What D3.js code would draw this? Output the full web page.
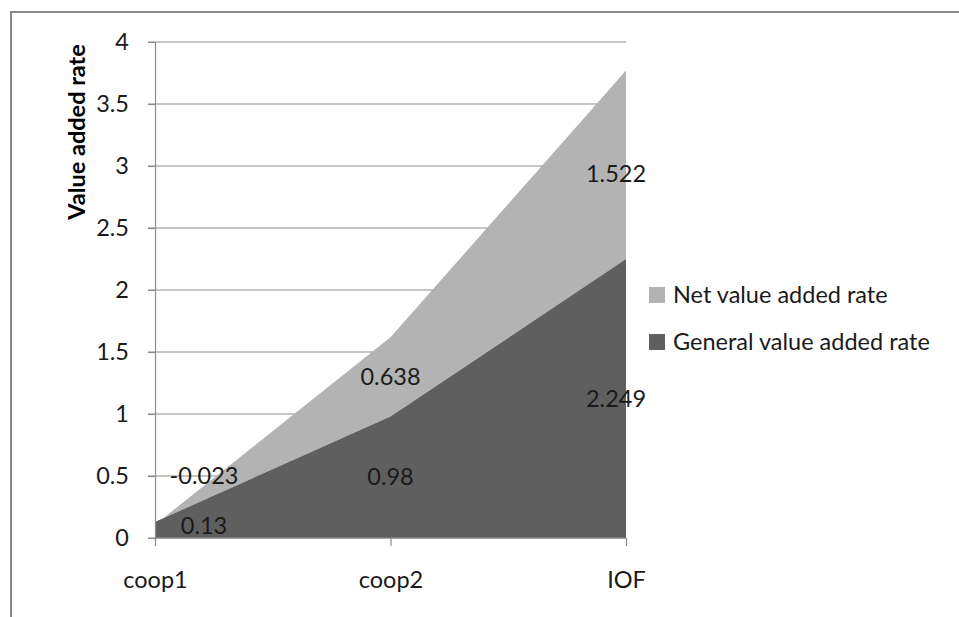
<!DOCTYPE html>
<html><head><meta charset="utf-8">
<script src="https://cdn.jsdelivr.net/npm/d3@7"></script>
<style>body{margin:0;background:#fff;} svg{display:block;} text{font-family:Lato, "Open Sans", sans-serif;}</style>
</head><body>
<svg id="c" width="959" height="617"></svg>
<script>
const categories = ["coop1", "coop2", "IOF"];
const generalValues = [0.13, 0.98, 2.249];
const netValues = [-0.023, 0.638, 1.522];
const seriesNames = ["Net value added rate", "General value added rate"];
const yTicks = [0, 0.5, 1, 1.5, 2, 2.5, 3, 3.5, 4];
const yTitle = "Value added rate";

const colors = {general: "#5f5f5f", net: "#b3b3b3", grid: "#8c8c8c", text: "#1a1a1a"};
const svg = d3.select("#c");
const fs = 23.5;

// outer frame (cropped at right and bottom)
svg.append("path").attr("d", "M11,1000 V12 H1000").attr("fill", "none").attr("stroke", "#888").attr("stroke-width", 2);

const x = d3.scalePoint().domain(categories).range([155, 626]);
const y = d3.scaleLinear().domain([0, 4]).range([538, 42]);

const data = categories.map((c, i) => ({cat: c, general: generalValues[i], net: netValues[i]}));

// gridlines
svg.append("g").selectAll("line").data(yTicks).join("line")
  .attr("x1", 148).attr("x2", x.range()[1]).attr("y1", d => y(d)).attr("y2", d => y(d))
  .attr("stroke", colors.grid).attr("stroke-width", 1.2);

// areas
const genArea = d3.area().x(d => x(d.cat)).y0(y(0)).y1(d => y(d.general));
const netArea = d3.area().x(d => x(d.cat)).y0(d => y(d.general)).y1(d => y(d.general + d.net));
svg.append("path").datum(data).attr("d", netArea).attr("fill", colors.net);
svg.append("path").datum(data).attr("d", genArea).attr("fill", colors.general);

// axes
const yAxis = d3.axisLeft(y).tickValues(yTicks).tickSize(7).tickPadding(19).tickFormat(d3.format("~g"));
const gy = svg.append("g").attr("transform", "translate(155,0)").call(yAxis);
const xAxis = d3.axisBottom(x).tickSize(8).tickPadding(25);
const gx = svg.append("g").attr("transform", `translate(0,${y(0)})`).call(xAxis);
[gy, gx].forEach(g => {
  g.select(".domain").attr("stroke", colors.grid).attr("stroke-width", 1.2);
  g.selectAll(".tick line").attr("stroke", colors.grid).attr("stroke-width", 1.2);
  g.selectAll("text").attr("font-size", fs).attr("fill", colors.text).style("font-family", "Lato, sans-serif");
});
gx.select(".domain").attr("d", `M${x.range()[0]},0H${x.range()[1]}`);

// y title
svg.append("text").attr("transform", `translate(85,${132}) rotate(-90)`)
  .attr("text-anchor", "middle").attr("font-size", 23.5).attr("font-weight", "bold").attr("fill", "#000").text(yTitle);

// data labels (middle of each stacked segment; Excel-like nudges at edges)
const edgeShift = [49, 0, -10];
const labels = [];
data.forEach((d, i) => {
  labels.push({v: d.general, xc: x(d.cat) + edgeShift[i], yv: d.general / 2 + (i === 0 ? 0.03 : 0)});
  labels.push({v: d.net, xc: x(d.cat) + edgeShift[i], yv: i === 0 ? 0.5 : d.general + d.net / 2 - (i === 2 ? 0.07 : 0)});
});
svg.append("g").selectAll("text").data(labels).join("text")
  .attr("x", d => d.xc).attr("y", d => y(d.yv)).attr("dy", "0.35em")
  .attr("text-anchor", "middle").attr("font-size", fs).attr("fill", colors.text)
  .text(d => d3.format("~g")(d.v).replace("−", "-"));

// legend
const leg = svg.append("g");
const legendItems = [{name: seriesNames[0], color: colors.net}, {name: seriesNames[1], color: colors.general}];
legendItems.forEach((it, i) => {
  const cy = 295 + i * 47;
  leg.append("rect").attr("x", 649).attr("y", cy - 8).attr("width", 16).attr("height", 16).attr("fill", it.color);
  leg.append("text").attr("x", 673).attr("y", cy).attr("dy", "0.35em").attr("font-size", fs).attr("fill", colors.text).text(it.name);
});
</script>
</body></html>
